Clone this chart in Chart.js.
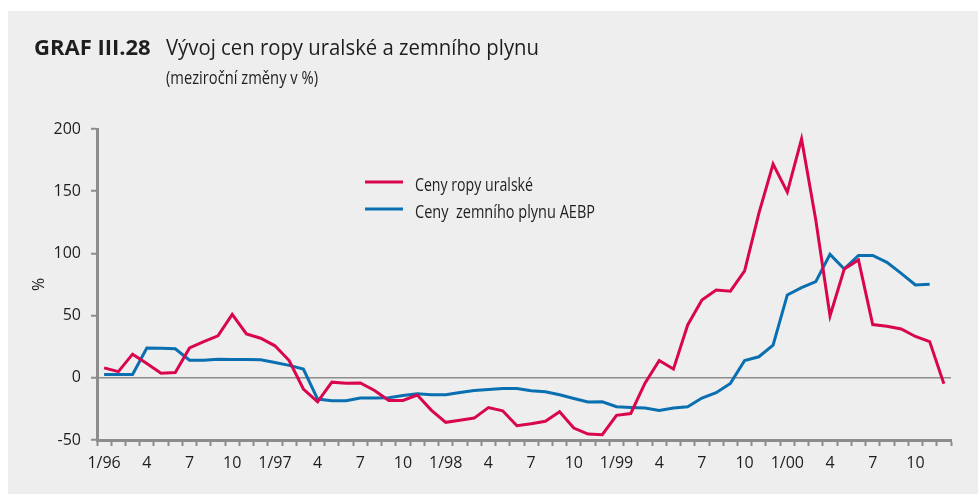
<!DOCTYPE html>
<html lang="cs">
<head>
<meta charset="utf-8">
<title>Vývoj cen ropy uralské a zemního plynu</title>
<script src="https://cdn.jsdelivr.net/npm/chart.js@4.4.1/dist/chart.umd.min.js"></script>
<style>
  body { margin: 0; background: #ffffff; }
  #obal { position: relative; width: 978px; height: 495px; }
  #panel { position: absolute; left: 8px; top: 11px; width: 970px; height: 483px; background: #eeeeee; }
  #graf { position: absolute; left: 0; top: 0; }
</style>
</head>
<body>
<div id="obal">
  <div id="panel"></div>
  <canvas id="graf" width="978" height="495"></canvas>
</div>
<script>
// roky a mesice (leden 1996 - prosinec 2000)
const roky = ['96', '97', '98', '99', '00'];
const mesice = [1, 2, 3, 4, 5, 6, 7, 8, 9, 10, 11, 12];
const popiskyMesicu = [1, 4, 7, 10]; // ktere mesice se popisuji na ose

// Ceny ropy uralské - mezirocni zmeny v %
const ropa = [
  8, 5, 19, 11.5, 3.7, 4.3, 24, 29, 33.7, 51, 35.3, 31.8,
  25.7, 13.9, -9, -19.3, -3.5, -4.3, -4.1, -10.2, -18.2, -18.2, -13.9, -26.2,
  -35.8, -34.2, -32.4, -24, -26.5, -38.5, -36.9, -35, -27.3, -40.4, -45.2, -45.7,
  -30.2, -28.7, -4.3, 13.9, 7, 42.5, 62.6, 70.6, 69.6, 85.9, 132.2, 171.8,
  149.3, 192, 126.8, 49.8, 87.5, 94.7, 42.8, 41.5, 39.3, 33.2, 29.1, -4.8
];

// Ceny zemniho plynu AEBP - mezirocni zmeny v % (posledni mesic chybi)
const plyn = [
  2.7, 2.7, 2.7, 24, 23.7, 23.3, 14.2, 14.2, 15, 14.7, 14.7, 14.5,
  12.3, 10, 7, -17.1, -18.5, -18.5, -16.3, -16.3, -16, -14.2, -12.8, -13.6,
  -13.6, -11.8, -10.2, -9.4, -8.6, -8.6, -10.4, -11.2, -13.6, -16.6, -19.5, -19.3,
  -23.3, -23.8, -24.3, -26.2, -24.3, -23.3, -16.3, -12, -4.5, 13.9, 16.9, 26.2,
  66.6, 72.5, 77.3, 99.2, 87.5, 98.4, 98.4, 92.8, 84, 74.6, 75.2
];

const osaY = { min: -50, max: 200, krok: 50 };

let kategorie = [];
roky.forEach(r => {
  mesice.forEach(m => kategorie.push(m + '/' + r));
});

const seda = '#8c8c8c';
const pismo = '#1e1e1e';

// nadpis, podnadpis a legenda uvnitr grafu
const textyGrafu = {
  id: 'textyGrafu',
  afterDraw(chart) {
    const ctx = chart.ctx;
    ctx.save();
    ctx.fillStyle = pismo;
    ctx.textBaseline = 'alphabetic';
    ctx.textAlign = 'left';

    ctx.font = 'bold 22px "Open Sans"';
    ctx.fillText('GRAF III.28', 34, 55, 118);
    ctx.font = '22px "Open Sans"';
    ctx.fillText('Vývoj cen ropy uralské a zemního plynu', 166, 55, 373);

    ctx.font = '18px "Open Sans"';
    ctx.fillText('(meziroční změny v %)', 166, 84, 152);

    // legenda
    const sirky = [118, 180];
    chart.data.datasets.forEach((ds, i) => {
      const y = 182 + i * 27;
      ctx.strokeStyle = ds.borderColor;
      ctx.lineWidth = 3;
      ctx.beginPath();
      ctx.moveTo(365, y);
      ctx.lineTo(403, y);
      ctx.stroke();
      ctx.font = '18px "Open Sans"';
      ctx.fillText(ds.label, 415, y + 9, sirky[i]);
    });
    ctx.restore();
  }
};

var ctx = document.getElementById('graf').getContext('2d');

var myChart = new Chart(ctx, {
  type: 'line',
  data: {
    labels: kategorie,
    datasets: [
      {
        label: 'Ceny ropy uralské',
        data: ropa,
        borderColor: '#d9064f',
        borderWidth: 3,
        pointRadius: 0,
        tension: 0,
        fill: false
      },
      {
        label: 'Ceny  zemního plynu AEBP',
        data: plyn,
        borderColor: '#0a6fb1',
        borderWidth: 3,
        pointRadius: 0,
        tension: 0,
        fill: false
      }
    ]
  },
  options: {
    responsive: false,
    animation: false,
    layout: { padding: { left: 0, top: 129, right: 27, bottom: 15 } },
    plugins: {
      legend: { display: false },
      tooltip: { enabled: false }
    },
    scales: {
      x: {
        type: 'category',
        offset: true,
        afterFit: s => { s.height = 40; },
        border: { color: seda, width: 3 },
        grid: {
          offset: true,
          drawOnChartArea: false,
          tickLength: 6,
          tickWidth: 2,
          tickColor: seda
        },
        ticks: {
          autoSkip: false,
          maxRotation: 0,
          padding: 8,
          color: pismo,
          font: { family: '"Open Sans"', size: 16 },
          callback: function (val, i) {
            const [m, r] = kategorie[i].split('/');
            if (m === '1') return kategorie[i];
            return popiskyMesicu.includes(+m) ? m : '';
          }
        }
      },
      y: {
        min: osaY.min,
        max: osaY.max,
        afterFit: s => { s.width = 97; },
        border: { color: seda, width: 3 },
        grid: {
          color: c => (c.tick && c.tick.value === 0) ? seda : 'transparent',
          lineWidth: 1.5,
          tickLength: 6,
          tickWidth: 2,
          tickColor: seda
        },
        ticks: {
          stepSize: osaY.krok,
          padding: 10,
          color: pismo,
          font: { family: '"Open Sans"', size: 16 }
        },
        title: {
          display: true,
          text: '%',
          color: pismo,
          font: { family: '"Open Sans"', size: 16 },
          padding: { top: 30 }
        }
      }
    }
  },
  plugins: [textyGrafu]
});
</script>
</body>
</html>
